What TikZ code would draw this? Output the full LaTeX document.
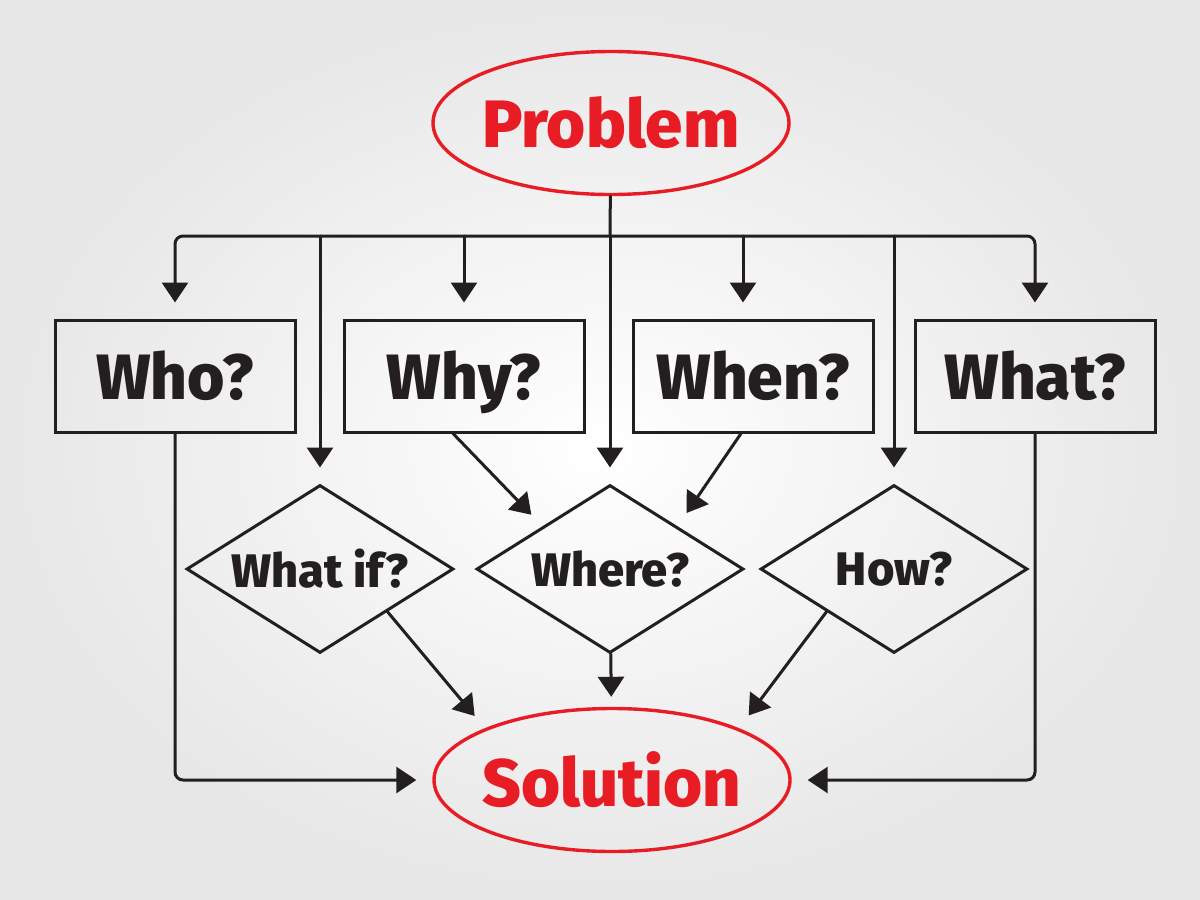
\documentclass[tikz,border=0pt]{standalone}
\usepackage{fontspec}
\setmainfont{Fira Sans}[BoldFont={* ExtraBold}]
\usetikzlibrary{arrows.meta,shapes.geometric}
\definecolor{marker}{RGB}{35,31,32}
\definecolor{pen}{RGB}{232,28,36}
\begin{document}
\begin{tikzpicture}[x=1pt,y=-1pt,
  box/.style={draw=marker,line width=3pt,rectangle,minimum width=240pt,minimum height=112pt,inner sep=0pt,
    text height=46pt,text depth=0pt,text=marker,font=\fontsize{64}{64}\selectfont\bfseries},
  decision/.style={draw=marker,line width=3pt,diamond,aspect=1.6,minimum width=267pt,minimum height=168pt,inner sep=0pt,
    text=marker,font=\fontsize{47}{47}\selectfont\bfseries},
  goal/.style={draw=pen,line width=3.4pt,ellipse,minimum width=356pt,minimum height=143pt,inner sep=0pt,
    text=pen,font=\fontsize{67}{67}\selectfont\bfseries},
  link/.style={draw=marker,line width=3pt,line cap=round},
  arrow/.style={link,-{Triangle[width=26pt,length=20pt]},shorten >=16pt}]
 \shade[inner color=white,outer color=gray!19] (0,0) rectangle (1200,900);
 \node[goal] (problem) at (611,123) {\makebox[0pt]{Problem}};
 \node[goal] (solution) at (612,780) {\makebox[0pt]{Solution}};
 \node[box] (who) at (175,376) {Who?};
 \node[box] (why) at (464,376) {Why?};
 \node[box] (when) at (753,376) {When?};
 \node[box] (what) at (1035,376) {What?};
 \node[decision] (whatif) at (320,569) {What if?};
 \node[decision] (where) at (610,569) {Where?};
 \node[decision] (how) at (894,569) {How?};
 \coordinate (bus) at (610,236);
 \draw[link] (problem) -- (bus);
 \draw[arrow,rounded corners=8pt] (bus) -| (who);
 \draw[arrow,rounded corners=8pt] (bus) -| (what);
 \draw[arrow] (bus -| why) -- (why);
 \draw[arrow] ([xshift=-10pt]bus -| when) -- ([xshift=-10pt]when.north);
 \draw[arrow] (bus -| whatif) -- (whatif);
 \draw[arrow] (bus) -- (where);
 \draw[arrow] (bus -| how) -- (how);
 \draw[arrow] ([xshift=-11pt]why.south) -- (where.north west);
 \draw[arrow] ([xshift=-12pt]when.south) -- (where.north east);
 \draw[arrow] (whatif.south east) -- (solution.north west);
 \draw[arrow,shorten >=10pt] (where) -- (solution);
 \draw[arrow] (how.south west) -- (solution.north east);
 \draw[arrow,rounded corners=8pt] (who) |- (solution);
 \draw[arrow,rounded corners=8pt] (what) |- (solution);
\end{tikzpicture}
\end{document}
